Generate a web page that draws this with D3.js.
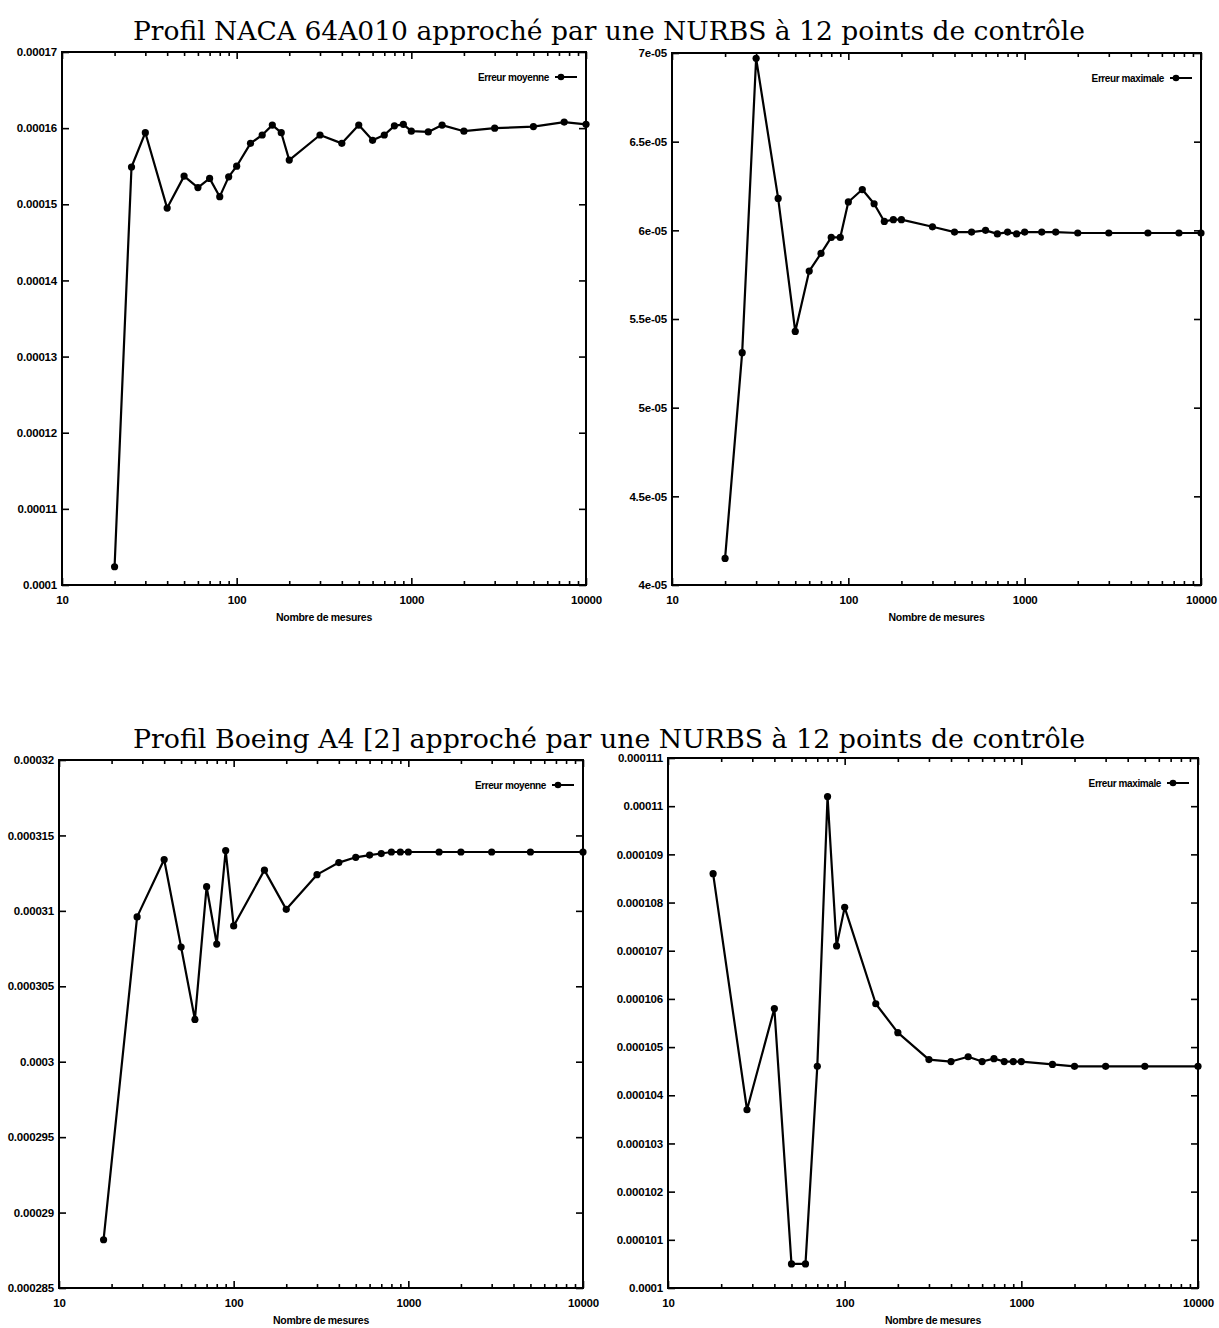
<!DOCTYPE html>
<html>
<head>
<meta charset="utf-8">
<script src="https://cdn.jsdelivr.net/npm/d3@7"></script>
<style>
  body { margin: 0; background: #fff; }
  svg { display: block; }
  .tick text { font-family: "Liberation Sans", Arial, sans-serif; font-weight: bold; font-size: 11.5px; fill: #000; letter-spacing: -0.2px; }
</style>
</head>
<body>
<script>
// Page size
var width = 1219,
    height = 1328;

// Titles of the two rows
var titles = [
    "Profil NACA 64A010 approché par une NURBS à 12 points de contrôle",
    "Profil Boeing A4 [2] approché par une NURBS à 12 points de contrôle"
];

// Number of measures (x) for each profile
var nacaX = [20, 25, 30, 40, 50, 60, 70, 80, 90, 100, 120, 140, 160, 180, 200,
    300, 400, 500, 600, 700, 800, 900, 1000, 1250, 1500, 2000, 3000, 5000, 7500, 10000];
var boeingX = [18, 28, 40, 50, 60, 70, 80, 90, 100, 150, 200, 300, 400, 500, 600,
    700, 800, 900, 1000, 1500, 2000, 3000, 5000, 10000];

// Mean / max error series
var nacaMean = [0.0001024, 0.0001549, 0.0001594, 0.0001495, 0.0001537, 0.0001522, 0.0001534,
    0.0001510, 0.0001536, 0.0001550, 0.0001580, 0.0001591, 0.0001604, 0.0001594, 0.0001558,
    0.0001591, 0.0001580, 0.0001604, 0.0001584, 0.0001591, 0.0001603, 0.0001605, 0.0001596,
    0.0001595, 0.0001604, 0.0001596, 0.0001600, 0.0001602, 0.0001608, 0.0001605];
var nacaMax = [4.15e-5, 5.31e-5, 6.97e-5, 6.18e-5, 5.43e-5, 5.77e-5, 5.87e-5, 5.96e-5, 5.96e-5,
    6.16e-5, 6.23e-5, 6.15e-5, 6.05e-5, 6.06e-5, 6.06e-5, 6.02e-5, 5.99e-5, 5.99e-5, 6.0e-5,
    5.98e-5, 5.99e-5, 5.98e-5, 5.99e-5, 5.99e-5, 5.99e-5, 5.985e-5, 5.985e-5, 5.985e-5,
    5.985e-5, 5.985e-5];
var boeingMean = [0.0002882, 0.0003096, 0.0003134, 0.0003076, 0.0003028, 0.0003116, 0.0003078,
    0.0003140, 0.0003090, 0.0003127, 0.0003101, 0.0003124, 0.0003132, 0.00031355, 0.0003137,
    0.0003138, 0.0003139, 0.0003139, 0.0003139, 0.0003139, 0.0003139, 0.0003139, 0.0003139,
    0.0003139];
var boeingMax = [0.0001086, 0.0001037, 0.0001058, 0.0001005, 0.0001005, 0.0001046, 0.0001102,
    0.0001071, 0.0001079, 0.0001059, 0.0001053, 0.00010474, 0.0001047, 0.0001048, 0.0001047,
    0.00010476, 0.0001047, 0.0001047, 0.0001047, 0.00010464, 0.0001046, 0.0001046, 0.0001046,
    0.0001046];

// X ticks (log scale)
var xTicks = [10, 100, 1000, 10000];
var xTickLabels = ["10", "100", "1000", "10000"];

// Y ticks per panel
var yTicks1 = [0.0001, 0.00011, 0.00012, 0.00013, 0.00014, 0.00015, 0.00016, 0.00017];
var yLabels1 = ["0.0001", "0.00011", "0.00012", "0.00013", "0.00014", "0.00015", "0.00016", "0.00017"];
var yTicks2 = [4e-5, 4.5e-5, 5e-5, 5.5e-5, 6e-5, 6.5e-5, 7e-5];
var yLabels2 = ["4e-05", "4.5e-05", "5e-05", "5.5e-05", "6e-05", "6.5e-05", "7e-05"];
var yTicks3 = [0.000285, 0.00029, 0.000295, 0.0003, 0.000305, 0.00031, 0.000315, 0.00032];
var yLabels3 = ["0.000285", "0.00029", "0.000295", "0.0003", "0.000305", "0.00031", "0.000315", "0.00032"];
var yTicks4 = [0.0001, 0.000101, 0.000102, 0.000103, 0.000104, 0.000105, 0.000106,
    0.000107, 0.000108, 0.000109, 0.00011, 0.000111];
var yLabels4 = ["0.0001", "0.000101", "0.000102", "0.000103", "0.000104", "0.000105", "0.000106",
    "0.000107", "0.000108", "0.000109", "0.00011", "0.000111"];

var legendNames = ["Erreur moyenne", "Erreur maximale"];
var xTitle = "Nombre de mesures";

// Minor ticks 20..90, 200..900, 2000..9000
var minorTicks = [];
[10, 100, 1000].forEach(function(d) {
    for (var k = 2; k < 10; k++) minorTicks.push(d * k);
});

var svg = d3.select("body")
    .append("svg")
    .attr("width", width)
    .attr("height", height);

// Row titles
svg.selectAll("text.title")
    .data(titles)
    .enter().append("text")
        .attr("class", "title")
        .attr("x", 609)
        .attr("y", function(d, i) { return i == 0 ? 40 : 748; })
        .attr("text-anchor", "middle")
        .attr("font-family", "'DejaVu Serif', 'Liberation Serif', serif")
        .attr("font-size", 26)
        .attr("textLength", 952)
        .attr("lengthAdjust", "spacingAndGlyphs")
        .text(function(d) { return d; });

var panels = [
    { box: [62, 52, 586, 585], xs: nacaX, ys: nacaMean, yTicks: yTicks1, yLabels: yLabels1, name: legendNames[0] },
    { box: [672, 53, 1201, 585], xs: nacaX, ys: nacaMax, yTicks: yTicks2, yLabels: yLabels2, name: legendNames[1] },
    { box: [59, 760, 583, 1288], xs: boeingX, ys: boeingMean, yTicks: yTicks3, yLabels: yLabels3, name: legendNames[0] },
    { box: [668, 758, 1198, 1288], xs: boeingX, ys: boeingMax, yTicks: yTicks4, yLabels: yLabels4, name: legendNames[1] }
];

panels.forEach(drawPanel);

function drawPanel(p) {
    var left = p.box[0], top = p.box[1], right = p.box[2], bottom = p.box[3];
    var w = right - left, h = bottom - top;

    var x = d3.scaleLog().domain([10, 10000]).range([0, w]);
    var y = d3.scaleLinear()
        .domain([p.yTicks[0], p.yTicks[p.yTicks.length - 1]])
        .range([h, 0]);

    var g = svg.append("g").attr("transform", "translate(" + left + "," + top + ")");

    // bottom axis with labels, major ticks inward
    g.append("g")
        .attr("transform", "translate(0," + h + ")")
        .call(d3.axisBottom(x).tickValues(xTicks)
            .tickFormat(function(d, i) { return xTickLabels[i]; })
            .tickSizeInner(-7).tickSizeOuter(0).tickPadding(11));
    g.append("g")
        .attr("transform", "translate(0," + h + ")")
        .call(d3.axisBottom(x).tickValues(minorTicks).tickFormat("")
            .tickSizeInner(-4).tickSizeOuter(0));

    // top axis, ticks inward
    g.append("g")
        .call(d3.axisTop(x).tickValues(xTicks).tickFormat("")
            .tickSizeInner(-7).tickSizeOuter(0));
    g.append("g")
        .call(d3.axisTop(x).tickValues(minorTicks).tickFormat("")
            .tickSizeInner(-4).tickSizeOuter(0));

    // left axis with labels
    g.append("g")
        .call(d3.axisLeft(y).tickValues(p.yTicks)
            .tickFormat(function(d, i) { return p.yLabels[i]; })
            .tickSizeInner(-7).tickSizeOuter(0).tickPadding(5));
    // right axis
    g.append("g")
        .attr("transform", "translate(" + w + ",0)")
        .call(d3.axisRight(y).tickValues(p.yTicks).tickFormat("")
            .tickSizeInner(-7).tickSizeOuter(0));

    g.selectAll(".domain").remove();
    g.selectAll(".tick line").attr("stroke", "#000").attr("stroke-width", 1.6);

    // frame
    g.append("rect")
        .attr("width", w)
        .attr("height", h)
        .attr("fill", "none")
        .attr("stroke", "#000")
        .attr("stroke-width", 2);

    // x title
    g.append("text")
        .attr("x", w / 2)
        .attr("y", h + 36)
        .attr("text-anchor", "middle")
        .attr("font-family", "'Liberation Sans', Arial, sans-serif")
        .attr("font-weight", "bold")
        .attr("font-size", 10.5)
        .attr("letter-spacing", -0.3)
        .text(xTitle);

    // data line + points
    var pts = p.xs.map(function(d, i) { return [d, p.ys[i]]; });
    var line = d3.line()
        .x(function(d) { return x(d[0]); })
        .y(function(d) { return y(d[1]); });

    g.append("path")
        .datum(pts)
        .attr("fill", "none")
        .attr("stroke", "#000")
        .attr("stroke-width", 2.2)
        .attr("stroke-linejoin", "round")
        .attr("d", line);

    g.selectAll("circle.pt")
        .data(pts)
        .enter().append("circle")
            .attr("class", "pt")
            .attr("cx", function(d) { return x(d[0]); })
            .attr("cy", function(d) { return y(d[1]); })
            .attr("r", 3.6)
            .attr("fill", "#000");

    // legend
    var lg = g.append("g").attr("transform", "translate(" + w + ",25)");
    lg.append("text")
        .attr("x", -37)
        .attr("y", 4)
        .attr("text-anchor", "end")
        .attr("font-family", "'Liberation Sans', Arial, sans-serif")
        .attr("font-weight", "bold")
        .attr("font-size", 10)
        .attr("letter-spacing", -0.4)
        .text(p.name);
    lg.append("line")
        .attr("x1", -31).attr("x2", -9)
        .attr("stroke", "#000")
        .attr("stroke-width", 2);
    lg.append("circle")
        .attr("cx", -25)
        .attr("r", 3.3)
        .attr("fill", "#000");
}
</script>
</body>
</html>
